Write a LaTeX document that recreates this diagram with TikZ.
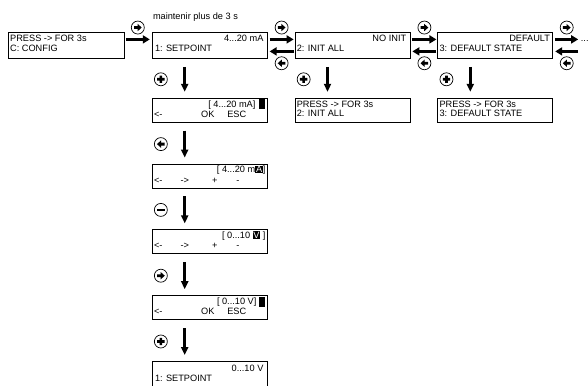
\documentclass[tikz,border=0pt]{standalone}
\usepackage{fontspec}
\setmainfont{Liberation Sans}
\usetikzlibrary{arrows.meta, positioning}
\newcommand{\lcdfont}{\fontsize{9.2}{10}\selectfont}
\newcommand{\invchar}[1]{{\setlength{\fboxsep}{0.7pt}\colorbox{black}{\textcolor{white}{#1}}}}

\begin{document}
\begin{tikzpicture}[x=1pt, y=-1pt, >=Stealth,
    lcd/.style={rectangle, draw, line width=0.8pt, minimum width=115pt,
                minimum height=26pt, inner sep=0pt},
    lcdsm/.style={lcd, minimum height=24pt},
    txt/.style={font=\lcdfont, inner sep=0pt},
    cursor/.style={rectangle, fill=black, minimum width=6pt, minimum height=10pt, inner sep=0pt},
    btn/.style={circle, draw, line width=0.7pt, minimum size=13pt, inner sep=0pt},
    btnright/.style={btn, path picture={\fill[shift={(path picture bounding box.center)}]
        (-3.8pt,-1.4pt) -- (-0.2pt,-1.4pt) -- (-0.2pt,-3.7pt) -- (3.9pt,0pt)
        -- (-0.2pt,3.7pt) -- (-0.2pt,1.4pt) -- (-3.8pt,1.4pt) -- cycle;}},
    btnleft/.style={btn, path picture={\fill[shift={(path picture bounding box.center)}]
        (3.8pt,-1.4pt) -- (0.2pt,-1.4pt) -- (0.2pt,-3.7pt) -- (-3.9pt,0pt)
        -- (0.2pt,3.7pt) -- (0.2pt,1.4pt) -- (3.8pt,1.4pt) -- cycle;}},
    btnplus/.style={btn, path picture={\fill[shift={(path picture bounding box.center)}]
        (-3.7pt,-1.3pt) rectangle (3.7pt,1.3pt) (-1.3pt,-3.7pt) rectangle (1.3pt,3.7pt);}},
    btnminus/.style={btn, path picture={\fill[shift={(path picture bounding box.center)}]
        (-3.7pt,-1.4pt) rectangle (3.7pt,1.4pt);}},
    sidearrow/.style={line width=3pt, -{Triangle[length=7pt, width=8pt]}},
    downarrow/.style={line width=2.6pt, -{Triangle[length=8pt, width=7pt]}}]

    \useasboundingbox (0,0) rectangle (588,385);

    % top row of displays
    \node[lcd, minimum width=116pt, anchor=north west] (cfg) at (8,32) {};
    \node[lcd, right=27pt of cfg] (set1) {};
    \node[lcd, right=27pt of set1] (initAll) {};
    \node[lcd, right=27pt of initAll] (defState) {};
    \coordinate (more) at ([shift={(25,0)}]defState.east);

    % setpoint column and confirm displays
    \node[lcdsm, below=39pt of set1] (rngA) {};
    \node[lcdsm, below=41pt of rngA] (rngB) {};
    \node[lcdsm, below=41pt of rngB] (rngC) {};
    \node[lcdsm, below=41pt of rngC] (rngD) {};
    \node[lcd, below=41pt of rngD] (set2) {};
    \node[lcdsm, below=39pt of initAll] (pressInit) {};
    \node[lcdsm, below=39pt of defState] (pressDef) {};

    % display texts
    \node[txt, anchor=base west] (hold) at ([shift={(1,-12.5)}]set1.north west) {maintenir plus de 3 s};
    \node[txt, anchor=base west] (cfgL1) at ([shift={(2,10)}]cfg.north west) {PRESS -> FOR 3s};
    \node[txt, anchor=base west] (cfgL2) at ([shift={(2,20)}]cfg.north west) {C: CONFIG};
    \node[txt, anchor=base east] (set1L1) at ([shift={(-4,10)}]set1.north east) {4...20 mA};
    \node[txt, anchor=base west] (set1L2) at ([shift={(3,20)}]set1.north west) {1: SETPOINT};
    \node[txt, anchor=base east] (initL1) at ([shift={(-4,10)}]initAll.north east) {NO INIT};
    \node[txt, anchor=base west] (initL2) at ([shift={(2,20)}]initAll.north west) {2: INIT ALL};
    \node[txt, anchor=base east] (defL1) at ([shift={(-3,10)}]defState.north east) {DEFAULT};
    \node[txt, anchor=base west] (defL2) at ([shift={(2,20)}]defState.north west) {3: DEFAULT STATE};
    \node[txt, anchor=base west] (pInitL1) at ([shift={(2,9.5)}]pressInit.north west) {PRESS -> FOR 3s};
    \node[txt, anchor=base west] (pInitL2) at ([shift={(2,19)}]pressInit.north west) {2: INIT ALL};
    \node[txt, anchor=base west] (pDefL1) at ([shift={(2,9.5)}]pressDef.north west) {PRESS -> FOR 3s};
    \node[txt, anchor=base west] (pDefL2) at ([shift={(2,19)}]pressDef.north west) {3: DEFAULT STATE};

    \node[txt, anchor=base east] (rngAL1) at ([shift={(-12,9.5)}]rngA.north east) {[ 4...20 mA]};
    \node[cursor, anchor=north east] (curA) at ([shift={(-2,1.5)}]rngA.north east) {};
    \node[txt, anchor=base west] (rngABack) at ([shift={(2,19.5)}]rngA.north west) {<-};
    \node[txt, anchor=base] (rngAOk) at ([shift={(56,19.5)}]rngA.north west) {OK};
    \node[txt, anchor=base] (rngAEsc) at ([shift={(85,19.5)}]rngA.north west) {ESC};

    \node[txt, anchor=base east] (rngBL1) at ([shift={(-2,9)}]rngB.north east) {[ 4...20 m\invchar{A}]};
    \node[txt, anchor=base west] (rngBBack) at ([shift={(2,19.5)}]rngB.north west) {<-};
    \node[txt, anchor=base] (rngBNext) at ([shift={(33,19.5)}]rngB.north west) {->};
    \node[txt, anchor=base] (rngBUp) at ([shift={(63,19.5)}]rngB.north west) {+};
    \node[txt, anchor=base] (rngBDown) at ([shift={(86,19.5)}]rngB.north west) {-};

    \node[txt, anchor=base east] (rngCL1) at ([shift={(-2,9)}]rngC.north east) {[ 0...10 \invchar{V} ]};
    \node[txt, anchor=base west] (rngCBack) at ([shift={(2,19.5)}]rngC.north west) {<-};
    \node[txt, anchor=base] (rngCNext) at ([shift={(33,19.5)}]rngC.north west) {->};
    \node[txt, anchor=base] (rngCUp) at ([shift={(63,19.5)}]rngC.north west) {+};
    \node[txt, anchor=base] (rngCDown) at ([shift={(86,19.5)}]rngC.north west) {-};

    \node[txt, anchor=base east] (rngDL1) at ([shift={(-11,9)}]rngD.north east) {[ 0...10 V]};
    \node[cursor, anchor=north east] (curD) at ([shift={(-2,1.5)}]rngD.north east) {};
    \node[txt, anchor=base west] (rngDBack) at ([shift={(2,19.5)}]rngD.north west) {<-};
    \node[txt, anchor=base] (rngDOk) at ([shift={(56,19.5)}]rngD.north west) {OK};
    \node[txt, anchor=base] (rngDEsc) at ([shift={(85,19.5)}]rngD.north west) {ESC};

    \node[txt, anchor=base east] (set2L1) at ([shift={(-4,10)}]set2.north east) {0...10 V};
    \node[txt, anchor=base west] (set2L2) at ([shift={(3,20)}]set2.north west) {1: SETPOINT};
    \node[txt, anchor=base west] (moreDots) at ([shift={(2.5,-4)}]more) {...};

    % key arrows between displays
    \draw[sidearrow] ([shift={(1,-6)}]cfg.east) -- ([shift={(-2,-6)}]set1.west) node[btnright, midway, above=5pt] (nextC) {};
    \draw[sidearrow] ([shift={(2,-6)}]set1.east) -- ([shift={(-1,-6)}]initAll.west) node[btnright, midway, above=5pt] (next1) {};
    \draw[sidearrow] ([shift={(-1,6)}]initAll.west) -- ([shift={(2,6)}]set1.east) node[btnleft, midway, below=5pt] (prev1) {};
    \draw[sidearrow] ([shift={(2,-6)}]initAll.east) -- ([shift={(-1,-6)}]defState.west) node[btnright, midway, above=5pt] (next2) {};
    \draw[sidearrow] ([shift={(-1,6)}]defState.west) -- ([shift={(2,6)}]initAll.east) node[btnleft, midway, below=5pt] (prev2) {};
    \draw[sidearrow] ([shift={(2,-6)}]defState.east) -- ([shift={(0,-6)}]more) node[btnright, midway, above=5pt] (next3) {};
    \draw[sidearrow] ([shift={(0,6)}]more) -- ([shift={(2,6)}]defState.east) node[btnleft, midway, below=5pt] (prev3) {};

    \draw[downarrow] ([shift={(-25,8)}]set1.south) -- ([shift={(-25,-6)}]rngA.north) node[btnplus, midway, left=17pt] (keyA) {};
    \draw[downarrow] ([shift={(-25,8)}]rngA.south) -- ([shift={(-25,-6)}]rngB.north) node[btnleft, midway, left=17pt] (keyB) {};
    \draw[downarrow] ([shift={(-25,8)}]rngB.south) -- ([shift={(-25,-6)}]rngC.north) node[btnminus, midway, left=17pt] (keyC) {};
    \draw[downarrow] ([shift={(-25,8)}]rngC.south) -- ([shift={(-25,-6)}]rngD.north) node[btnright, midway, left=17pt] (keyD) {};
    \draw[downarrow] ([shift={(-25,8)}]rngD.south) -- ([shift={(-25,-6)}]set2.north) node[btnplus, midway, left=17pt] (keyE) {};
    \draw[downarrow] ([shift={(-25,8)}]initAll.south) -- ([shift={(-25,-6)}]pressInit.north) node[btnplus, midway, left=17pt] (keyInit) {};
    \draw[downarrow] ([shift={(-25,8)}]defState.south) -- ([shift={(-25,-6)}]pressDef.north) node[btnplus, midway, left=17pt] (keyDef) {};
\end{tikzpicture}
\end{document}
